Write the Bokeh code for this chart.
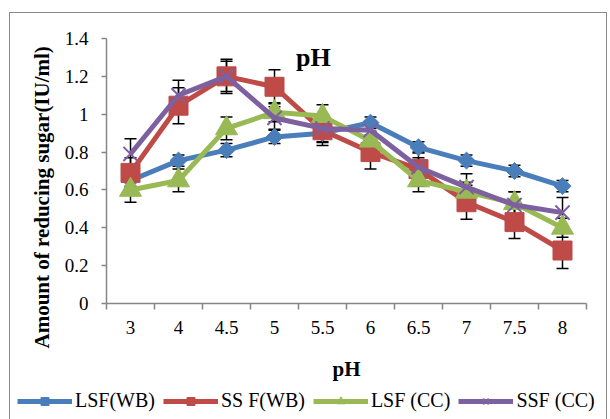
import math
from bokeh.plotting import figure
from bokeh.layouts import column
from bokeh.models import (ColumnDataSource, FixedTicker, Whisker, TeeHead, Label,
                          Legend, LegendItem, Title)
from bokeh.embed import file_html
from bokeh.resources import INLINE

ph_labels = ["3", "4", "4.5", "5", "5.5", "6", "6.5", "7", "7.5", "8"]
series_names = ["LSF(WB)", "SS F(WB)", "LSF (CC)", "SSF (CC)"]
lsf_wb = [0.65, 0.755, 0.81, 0.88, 0.90, 0.955, 0.825, 0.755, 0.70, 0.62]
ssf_wb = [0.69, 1.045, 1.20, 1.145, 0.915, 0.80, 0.71, 0.535, 0.43, 0.28]
lsf_cc = [0.60, 0.65, 0.925, 1.01, 0.99, 0.86, 0.65, 0.59, 0.53, 0.40]
ssf_cc = [0.79, 1.10, 1.20, 0.98, 0.925, 0.915, 0.72, 0.615, 0.52, 0.48]
lsf_wb_err = [0.03, 0.03, 0.035, 0.035, 0.05, 0.03, 0.03, 0.03, 0.03, 0.03]
ssf_wb_err = [0.08, 0.095, 0.09, 0.09, 0.08, 0.09, 0.09, 0.09, 0.087, 0.095]
lsf_cc_err = [0.065, 0.06, 0.06, 0.05, 0.06, 0.05, 0.06, 0.05, 0.06, 0.05]
ssf_cc_err = [0.08, 0.08, 0.08, 0.06, 0.07, 0.05, 0.05, 0.07, 0.07, 0.08]
y_ticks = [0, 0.2, 0.4, 0.6, 0.8, 1.0, 1.2, 1.4]
y_tick_labels = ["0", "0.2", "0.4", "0.6", "0.8", "1", "1.2", "1.4"]
title_text = "pH"
x_title = "pH"
y_title = "Amount of reducing sugar(IU/ml)"

colors = ["#4A7EBB", "#BE4B48", "#98B954", "#7D60A0"]
FONT = "Liberation Serif"

x_idx = list(range(len(ph_labels)))

p = figure(width=596, height=372, output_backend="svg", toolbar_location=None,
           x_range=(-0.5, len(ph_labels) - 0.5), y_range=(0, 1.4),
           min_border_left=96, min_border_right=20, min_border_top=25,
           min_border_bottom=82)
p.outline_line_color = None
p.xgrid.visible = False
p.ygrid.visible = False
p.background_fill_color = "white"
p.border_fill_color = "white"

# x axis
p.xaxis.ticker = FixedTicker(ticks=x_idx, minor_ticks=[i - 0.5 for i in range(len(ph_labels) + 1)])
p.xaxis.major_label_overrides = {i: lab for i, lab in zip(x_idx, ph_labels)}
p.xaxis.major_tick_out = 0
p.xaxis.major_tick_in = 0
p.xaxis.minor_tick_out = 6
p.xaxis.minor_tick_in = 0
p.xaxis.minor_tick_line_color = "#868686"
p.xaxis.minor_tick_line_width = 1.5
p.xaxis.axis_line_color = "#868686"
p.xaxis.axis_line_width = 1.5
p.xaxis.major_label_text_font = FONT
p.xaxis.major_label_text_font_size = "19px"
p.xaxis.major_label_text_color = "black"
p.xaxis.major_label_standoff = 11
p.xaxis.axis_label = x_title
p.xaxis.axis_label_text_font = FONT
p.xaxis.axis_label_text_font_size = "21px"
p.xaxis.axis_label_text_font_style = "bold"
p.xaxis.axis_label_text_color = "black"
p.xaxis.axis_label_standoff = 20

# y axis
p.yaxis.ticker = FixedTicker(ticks=y_ticks, minor_ticks=[])
p.yaxis.major_label_overrides = {t: lab for t, lab in zip(y_ticks, y_tick_labels)}
p.yaxis.major_tick_out = 5
p.yaxis.major_tick_in = 0
p.yaxis.major_tick_line_color = "#868686"
p.yaxis.major_tick_line_width = 1.5
p.yaxis.axis_line_color = "#868686"
p.yaxis.axis_line_width = 1.5
p.yaxis.major_label_text_font = FONT
p.yaxis.major_label_text_font_size = "19px"
p.yaxis.major_label_text_color = "black"
p.yaxis.major_label_standoff = 13

ytitle = Title(text=y_title, align="left", offset=-45, standoff=15,
               text_font=FONT, text_font_size="21px", text_font_style="bold",
               text_color="black")
p.add_layout(ytitle, "left")

vals = [lsf_wb, ssf_wb, lsf_cc, ssf_cc]
errs = [lsf_wb_err, ssf_wb_err, lsf_cc_err, ssf_cc_err]
markers = [dict(marker="square", size=12, angle=math.pi / 4),
           dict(marker="square", size=19, angle=0),
           dict(marker="triangle", size=22, angle=0),
           dict(marker="x", size=20, angle=0)]

# legend strip below the chart
q = figure(width=596, height=34, output_backend="svg", toolbar_location=None,
           x_range=(0, 1), y_range=(0, 1), min_border=0,
           x_axis_location=None, y_axis_location=None)
q.frame_align = False
q.outline_line_color = None
q.xgrid.visible = False
q.ygrid.visible = False
q.border_fill_color = "white"

nan = float("nan")
items = []
for name, v, e, c, m in zip(series_names, vals, errs, colors, markers):
    src = ColumnDataSource(dict(x=x_idx, y=v,
                                upper=[a + b for a, b in zip(v, e)],
                                lower=[a - b for a, b in zip(v, e)]))
    w = Whisker(source=src, base="x", upper="upper", lower="lower", dimension="height",
                line_color="black", line_width=1.5,
                upper_head=TeeHead(size=12, line_color="black", line_width=1.5),
                lower_head=TeeHead(size=12, line_color="black", line_width=1.5))
    p.add_layout(w)
    p.line("x", "y", source=src, line_color=c, line_width=5)
    if m["marker"] == "x":
        p.scatter("x", "y", source=src, marker="x", size=m["size"],
                  line_color=c, line_width=2)
    else:
        p.scatter("x", "y", source=src, marker=m["marker"], size=m["size"],
                  angle=m["angle"], fill_color=c, line_color=c)
    # legend key glyphs (not plotted: NaN placeholder only used by the legend)
    key = ColumnDataSource(dict(x=[nan], y=[nan]))
    lr = q.line("x", "y", source=key, line_color=c, line_width=5)
    if m["marker"] == "x":
        sr = q.scatter("x", "y", source=key, marker="x", size=m["size"],
                       line_color=c, line_width=2)
    else:
        sr = q.scatter("x", "y", source=key, marker=m["marker"], size=m["size"],
                       angle=m["angle"], fill_color=c, line_color=c)
    items.append(LegendItem(label=name, renderers=[lr, sr]))

legend = Legend(items=items, orientation="horizontal", location=(7, 7),
                padding=0, margin=0, spacing=8, label_standoff=3,
                glyph_width=55, glyph_height=20, label_height=22,
                border_line_color=None, background_fill_alpha=0,
                label_text_font=FONT, label_text_font_size="20px",
                label_text_color="black")
q.add_layout(legend, "center")

p.add_layout(Label(x=3.81, y=1.30, text=title_text, text_font=FONT,
                   text_font_size="26px", text_font_style="bold", text_color="black",
                   text_align="center", text_baseline="alphabetic"))

layout = column(p, q, spacing=0)
layout.styles = {"border": "1px solid #8a8a8a", "margin-left": "9px", "margin-top": "12px"}

open("out.html", "w").write(file_html(layout, INLINE))
